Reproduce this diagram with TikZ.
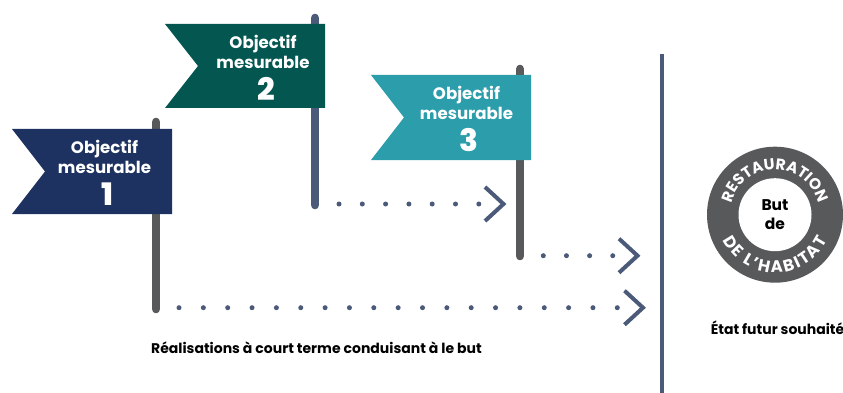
\documentclass[tikz,border=0pt]{standalone}
\usepackage{fontspec}
\setmainfont{Poppins}
\newfontfamily\heavy{Poppins ExtraBold}
\usetikzlibrary{calc,decorations.text}
\definecolor{navy}{HTML}{1D3260}
\definecolor{teal1}{HTML}{045650}
\definecolor{teal2}{HTML}{2B9DAB}
\definecolor{slate}{HTML}{4B5A78}
\definecolor{pole}{HTML}{58595B}
\tikzset{
  x=1pt,y=-1pt,
  polebar/.style={line width=8.6pt,line cap=round},
  flagtext/.style={text=white,font=\bfseries\fontsize{16.6}{20}\selectfont,align=center,inner sep=0pt},
  flagnum/.style={text=white,font=\heavy\fontsize{31}{31}\selectfont,inner sep=0pt},
  dotline/.style={draw=slate,line width=5pt,line cap=round},
  chevron/.style={draw=slate,line width=4pt,miter limit=10},
  caption/.style={text=black,font=\bfseries\fontsize{14}{16}\selectfont,inner sep=0pt},
}
\begin{document}
\begin{tikzpicture}
\useasboundingbox (0,0) rectangle (843,393);
\fill[white] (0,0) rectangle (843,393);
% poles
\draw[polebar,draw=pole] (156,122) coordinate (p1top) -- (156,309) coordinate (p1);
\draw[polebar,draw=slate] (315,18) coordinate (p2top) -- (315,205) coordinate (p2);
\draw[polebar,draw=pole] (520,69) coordinate (p3top) -- (520,256) coordinate (p3);
% flags
\fill[navy] (12,129) -- (172,129) -- (172,214) -- (12,214) -- (45,171.5) -- cycle;
\fill[teal1] (165,24) -- (325,24) -- (325,108) -- (165,108) -- (198,66) -- cycle;
\fill[teal2] (371,75) -- (531,75) -- (531,160) -- (371,160) -- (404,117.5) -- cycle;
\node[flagtext] (t1) at (104.5,157) {Objectif\\mesurable};
\node[flagnum] (n1) at (107,194) {1};
\node[flagtext] (t2) at (263,52) {Objectif\\mesurable};
\node[flagnum] (n2) at (266,89) {2};
\node[flagtext] (t3) at (466.5,103) {Objectif\\mesurable};
\node[flagnum] (n3) at (469,140) {3};
% dots
\coordinate (d1a) at (179,307.7); \coordinate (d1b) at (619,307.7); \coordinate (c1) at (643,307.7);
\coordinate (d2a) at (339,204); \coordinate (d2b) at (481,204); \coordinate (c2) at (503.5,204);
\coordinate (d3a) at (543.3,255.7); \coordinate (d3b) at (615,255.7); \coordinate (c3) at (637.5,255.7);
\draw[dotline,dash pattern=on 0pt off 24.35pt] (d1a) -- (d1b);
\draw[dotline,dash pattern=on 0pt off 23.3pt] (d2a) -- (d2b);
\draw[dotline,dash pattern=on 0pt off 23.15pt] (d3a) -- (d3b);
\draw[chevron] ($(c1)+(-18.5,-17)$) -- (c1) -- ($(c1)+(-18.5,17)$);
\draw[chevron] ($(c2)+(-18.5,-17)$) -- (c2) -- ($(c2)+(-18.5,17)$);
\draw[chevron] ($(c3)+(-18.5,-17)$) -- (c3) -- ($(c3)+(-18.5,17)$);
% divider
\draw[slate,line width=4pt] (662,54) coordinate (v1) -- (662,393) coordinate (v2);
% goal
\node[circle,fill=pole,minimum size=136pt,inner sep=0pt] (ring) at (775,214.7) {};
\node[circle,fill=white,minimum size=73pt,inner sep=0pt,font=\bfseries\fontsize{15.5}{18.5}\selectfont,align=center] (core) at (775,214.7) {But\\de};
\begin{scope}[shift={(775,214.7)},y=1pt]
\path[decorate,decoration={text along path,text align=center,
  text={|\bfseries\fontsize{15.5}{15.5}\selectfont\color{white}|RESTAURATION}}]
  (165:45pt) arc[start angle=165,end angle=15,radius=45pt];
\path[decorate,decoration={text along path,text align=fit to path,
  text={|\bfseries\fontsize{16.5}{16.5}\selectfont\color{white}|DE L’HABITAT}}]
  (206:58pt) arc[start angle=206,end angle=334,radius=58pt];
\end{scope}
% captions
\node[caption,anchor=west] (cap1) at (151,348) {Réalisations à court terme conduisant à le but};
\node[caption,anchor=center] (cap2) at (777.5,328) {État futur souhaité};
\end{tikzpicture}
\end{document}
